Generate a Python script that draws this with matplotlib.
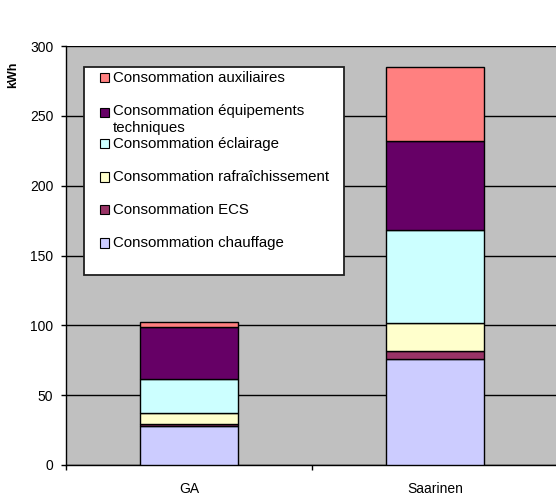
"""Stacked consumption bars, GA vs Saarinen."""

import matplotlib.pyplot as plt
from matplotlib.patches import Rectangle

plt.rcParams["font.family"] = ["Liberation Sans", "DejaVu Sans"]

CATEGORIES = ["GA", "Saarinen"]

# bottom to top of each stack
SERIES = [
    "Consommation chauffage",
    "Consommation ECS",
    "Consommation rafraîchissement",
    "Consommation éclairage",
    "Consommation équipements\ntechniques",
    "Consommation auxiliaires",
]
COLORS = ["#CCCCFF", "#993366", "#FFFFCC", "#CCFFFF", "#660066", "#FF8080"]

CHAUFFAGE = [28.0, 76.0]
ECS = [1.5, 5.5]
RAFRAICHISSEMENT = [7.5, 20.0]
ECLAIRAGE = [24.5, 67.0]
EQUIPEMENTS = [37.5, 63.5]
AUXILIAIRES = [3.5, 53.0]

VALUES = [CHAUFFAGE, ECS, RAFRAICHISSEMENT, ECLAIRAGE, EQUIPEMENTS, AUXILIAIRES]

W, H = 556, 496
fig = plt.figure(figsize=(W / 100, H / 100), dpi=100)
ax = fig.add_axes([66 / W, 31 / H, 492 / W, 419 / H])
ax.set_facecolor("#C0C0C0")

x = range(len(CATEGORIES))
bottom = [0.0] * len(CATEGORIES)
for vals, color in zip(VALUES, COLORS):
    ax.bar(x, vals, width=0.4, bottom=bottom, color=color,
           edgecolor="black", linewidth=1.0, zorder=3)
    bottom = [b + v for b, v in zip(bottom, vals)]

ax.set_xlim(-0.5, 1.5)
ax.set_ylim(0, 300)
ax.set_yticks(range(0, 301, 50))
ax.yaxis.grid(True, color="black", linewidth=1.0, zorder=0)
ax.set_axisbelow(True)

ax.set_xticks([0, 1])
ax.set_xticklabels(CATEGORIES)
ax.set_xticks([-0.5, 0.5], minor=True)
ax.tick_params(axis="x", which="major", length=0, pad=12, labelsize=10)
ax.tick_params(axis="x", which="minor", length=3.6, width=1, direction="out")
ax.tick_params(axis="y", length=3.6, width=1, direction="out", labelsize=10, pad=5.5)

for side in ("top", "right"):
    ax.spines[side].set_visible(False)
ax.spines["left"].set_linewidth(1.0)
ax.spines["bottom"].set_linewidth(1.0)

fig.text(13.5 / W, 1 - 75 / H, "kWh", rotation=90, ha="center", va="center",
         fontsize=9, fontweight="bold")


# legend box drawn in figure pixels
def fx(px):
    return px / W


def fy(py):
    return 1 - py / H


fig.patches.append(Rectangle((fx(84), fy(275)), fx(344) - fx(84), fy(67) - fy(275),
                             transform=fig.transFigure, facecolor="white",
                             edgecolor="#202020", linewidth=1.3, zorder=5))

entry_y = [243, 210, 177, 144, 112, 78]
for label, color, yy in zip(SERIES, COLORS, entry_y):
    fig.patches.append(Rectangle((fx(100), fy(yy + 4.5)), fx(108.5) - fx(100), fy(yy - 4.5) - fy(yy + 4.5),
                                 transform=fig.transFigure, facecolor=color,
                                 edgecolor="black", linewidth=0.8, zorder=6))
    if "\n" in label:
        fig.text(fx(113), fy(yy - 7.5), label, ha="left", va="top",
                 fontsize=10.8, linespacing=1.2, zorder=7)
    else:
        fig.text(fx(113), fy(yy), label, ha="left", va="center",
                 fontsize=10.8, zorder=7)

fig.savefig("out.png", dpi=100)
